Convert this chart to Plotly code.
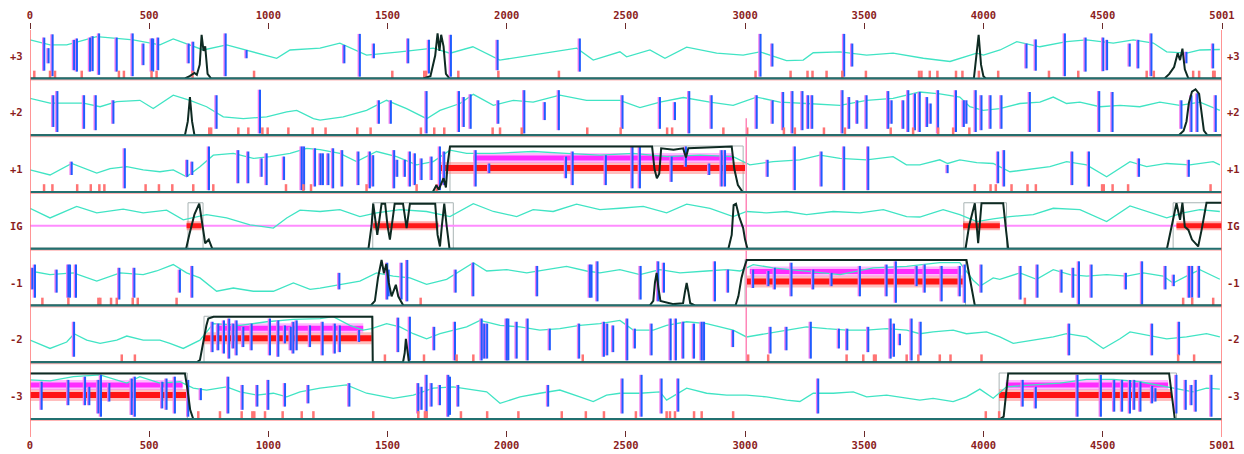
import plotly.graph_objects as go

# ---------------- data ----------------
ROWS = ["+3", "+2", "+1", "IG", "-1", "-2", "-3"]
X_MAX = 5001
TICKS = [0, 500, 1000, 1500, 2000, 2500, 3000, 3500, 4000, 4500, 5001]

# cyan curve per row: (position, level 0..1)
CYAN_P3 = [(0,.84),(84,.73),(154,.73),(280,.91),(433,.84),(545,.73),(601,.86),(727,.62),(825,.73),(937,.58),(1035,.44),(1091,.62),(1217,.66),
           (1300,.77),(1412,.51),(1552,.58),(1692,.66),(1762,.55),(1858,.69),(1971,.40),(2111,.51),(2294,.66),(2363,.40),(2475,.58),
           (2503,.47),(2601,.62),(2664,.44),(2755,.68),(2881,.55),(2992,.51),(3062,.58),(3174,.39),(3244,.40),(3286,.56),(3398,.58),
           (3454,.55),(3510,.51),(3621,.55),(3733,.44),(3748,.44),(3860,.37),(3902,.44),(3972,.55),(4000,.51),(4070,.62),(4140,.80),
           (4237,.69),(4349,.80),(4433,.84),(4545,.77),(4629,.84),(4713,.77),(4769,.58),(4853,.55),(4909,.62),(4992,.63)]
CYAN_P2 = [(0,.80),(84,.70),(224,.70),(294,.62),(364,.73),(461,.76),(517,.58),(601,.87),(671,.76),(741,.62),(811,.40),(895,.36),
           (993,.40),(1077,.51),(1119,.54),(1189,.36),(1217,.33),(1314,.40),(1412,.54),(1496,.76),(1580,.58),(1664,.36),(1720,.54),
           (1804,.69),(1860,.89),(1944,.65),(2028,.76),(2111,.72),(2223,.87),(2335,.76),(2475,.76),(2559,.60),(2643,.72),(2741,.82),
           (2853,.72),(2950,.65),(3048,.83),(3146,.72),(3258,.69),(3398,.65),(3510,.76),(3621,.80),(3733,.94),(3817,.90),(3901,.83),
           (3943,.62),(3999,.54),(4069,.58),(4153,.69),(4237,.72),(4293,.83),(4349,.69),(4405,.72),(4489,.62),(4573,.65),(4656,.62),
           (4740,.72),(4824,.65),(4908,.72),(4992,.54)]
CYAN_P1 = [(0,.48),(84,.37),(175,.62),(280,.41),(336,.51),(406,.55),(475,.48),(545,.44),(601,.48),(657,.33),(713,.55),(769,.80),
           (853,.84),(937,.73),(1007,.77),(1091,.84),(1161,.95),(1217,.92),(1300,.84),(1370,.66),(1454,.88),(1538,.77),(1622,.59),
           (1692,.66),(1762,.91),(1832,.84),(1944,.84),(2111,.88),(2251,.84),(2391,.80),(2531,.84),(2671,.77),(2811,.80),(2950,.77),
           (3020,.59),(3118,.66),(3230,.70),(3314,.80),(3398,.73),(3510,.70),(3621,.77),(3677,.59),(3733,.59),(3817,.70),(3850,.62),
           (3901,.70),(3972,.64),(4041,.62),(4111,.44),(4209,.51),(4279,.55),(4349,.66),(4433,.59),(4517,.33),(4615,.66),(4685,.55),
           (4769,.62),(4866,.59),(4964,.66),(4992,.59)]
CYAN_IG = [(0,.88),(84,.67),(196,.92),(280,.78),(391,.86),(475,.78),(573,.84),(643,.63),(741,.74),(825,.67),(923,.52),(1021,.45),
           (1077,.67),(1133,.84),(1217,.81),(1300,.85),(1384,.70),(1454,.78),(1552,.85),(1664,.81),(1762,.70),(1860,.98),(1944,.81),
           (2042,.70),(2111,.85),(2195,.81),(2293,.97),(2391,.85),(2475,.88),(2573,.92),(2671,.78),(2755,.97),(2853,.88),(2950,.70),
           (3007,.81),(3090,.78),(3174,.81),(3258,.74),(3370,.81),(3482,.78),(3580,.85),(3678,.70),(3733,.69),(3831,.85),(3901,.74),
           (3972,.59),(4041,.65),(4111,.70),(4209,.74),(4293,.88),(4405,.85),(4517,.59),(4615,.93),(4685,.81),(4769,.67),(4838,.78),
           (4908,.85),(4992,.81)]
CYAN_M1 = [(0,.75),(84,.67),(182,.71),(280,.53),(378,.71),(475,.67),(531,.75),(601,.89),(657,.71),(713,.60),(783,.31),(853,.38),
           (937,.31),(1021,.31),(1105,.49),(1175,.35),(1217,.38),(1300,.46),(1384,.53),(1454,.71),(1524,.64),(1594,.60),(1664,.46),
           (1748,.57),(1860,.93),(1916,.75),(2000,.78),(2084,.71),(2168,.78),(2251,.85),(2335,.75),(2391,.71),(2475,.78),(2559,.67),
           (2643,.78),(2727,.71),(2839,.75),(2923,.78),(2979,.75),(3034,.89),(3118,.82),(3258,.75),(3398,.67),(3538,.82),(3678,.85),
           (3817,.93),(3901,.93),(3957,.55),(3985,.42),(4041,.60),(4069,.57),(4153,.71),(4223,.57),(4293,.78),(4363,.67),(4433,.64),
           (4517,.67),(4601,.64),(4671,.71),(4754,.64),(4796,.49),(4852,.64),(4908,.78),(4992,.57)]
CYAN_M2 = [(0,.48),(84,.30),(154,.44),(185,.62),(238,.48),(294,.41),(364,.48),(406,.57),(475,.48),(545,.48),(587,.41),(643,.30),
           (713,.48),(769,.84),(881,.80),(993,.88),(1105,.93),(1217,.95),(1272,.99),(1342,.80),(1398,.70),(1433,.73),(1496,.84),
           (1552,.77),(1608,.62),(1664,.51),(1720,.62),(1776,.70),(1832,.77),(1888,.91),(1972,.80),(2056,.77),(2139,.70),(2223,.73),
           (2307,.80),(2391,.84),(2475,.91),(2531,.70),(2615,.70),(2671,.80),(2755,.88),(2839,.84),(2950,.70),(3006,.55),(3090,.62),
           (3174,.70),(3258,.77),(3342,.73),(3426,.70),(3510,.70),(3594,.73),(3678,.70),(3733,.62),(3789,.66),(3873,.70),(3929,.62),
           (4013,.66),(4069,.55),(4125,.41),(4209,.48),(4293,.55),(4349,.62),(4433,.55),(4503,.30),(4573,.51),(4615,.66),(4685,.59),
           (4769,.51),(4852,.55),(4936,.62),(4992,.55)]
CYAN_M3 = [(0,.85),(84,.83),(182,.92),(294,.96),(406,.78),(461,.92),(545,.78),(629,.81),(685,.67),(741,.63),(825,.70),(881,.59),
           (951,.52),(1021,.56),(1077,.48),(1133,.59),(1217,.67),(1328,.74),(1412,.56),(1524,.45),(1608,.52),(1692,.67),(1776,.70),
           (1860,.63),(1916,.59),(1972,.34),(2056,.48),(2139,.56),(2223,.63),(2307,.48),(2363,.38),(2419,.52),(2475,.56),(2559,.56),
           (2643,.59),(2671,.41),(2755,.67),(2839,.56),(2923,.52),(3006,.52),(3090,.48),(3174,.41),(3230,.38),(3286,.56),(3370,.56),
           (3454,.59),(3510,.48),(3594,.52),(3678,.45),(3733,.41),(3789,.45),(3873,.38),(3929,.48),(3985,.65),(4041,.45),(4097,.70),
           (4209,.74),(4321,.78),(4433,.86),(4545,.86),(4656,.81),(4768,.70),(4824,.63),(4880,.59),(4936,.67),(4992,.65)]

# blue bars per row: (position, top level, bottom level)
BLUE_P3 = [(60,.89,.17),(78,.66,.33),(95,.96,.05),(185,.84,.18),(197,.87,.15),(252,.89,.15),(263,.92,.16),(290,.98,.08),(364,.89,.15),
           (431,.98,.05),(476,.76,.29),(511,.87,.15),(517,.87,.15),(538,.89,.18),(666,.76,.33),(685,.80,.11),(821,.98,.05),(909,.62,.44),
           (1319,.73,.33),(1384,.97,.04),(1443,.76,.44),(1587,.87,.33),(1674,.84,.11),(1766,.95,.04),(1962,.84,.18),(2307,.87,.15),
           (3065,.97,.04),(3115,.76,.26),(3416,.97,.04),(3450,.76,.26),(4181,.76,.22),(4220,.85,.17),(4342,.98,.05),(4429,.89,.15),
           (4503,.89,.16),(4519,.84,.18),(4614,.76,.26),(4650,.84,.22),(4705,.98,.05),(4852,.58,.33),(4964,.76,.22)]
BLUE_P2 = [(98,.87,.18),(115,.96,.07),(227,.87,.14),(276,.87,.11),(350,.76,.25),(783,.87,.14),(965,.99,.04),(1464,.76,.25),(1514,.76,.25),
           (1664,.96,.04),(1800,.96,.07),(1820,.83,.18),(1849,.89,.14),(1965,.76,.25),(2074,.98,.04),(2160,.72,.33),(2219,.98,.11),
           (2486,.87,.14),(2643,.83,.14),(2706,.72,.33),(2766,.96,.04),(2860,.87,.14),(3049,.87,.14),(3116,.76,.25),(3160,.94,.11),
           (3199,.96,.04),(3241,.96,.11),(3265,.87,.14),(3282,.87,.14),(3409,.98,.04),(3437,.83,.14),(3471,.76,.25),(3510,.87,.14),
           (3601,.96,.14),(3615,.76,.25),(3664,.76,.14),(3685,.98,.07),(3713,.91,.11),(3733,.94,.07),(3764,.83,.18),(3779,.69,.25),
           (3810,.98,.04),(3885,.98,.07),(3918,.76,.18),(3929,.76,.25),(3968,.98,.07),(3992,.87,.11),(4030,.87,.14),(4076,.87,.14),
           (4195,.94,.07),(4486,.96,.07),(4542,.94,.07),(4831,.76,.14),(4873,.87,.07),(4898,.91,.07),(4975,.87,.07)]
BLUE_P1 = [(175,.66,.37),(398,.95,.08),(660,.70,.33),(681,.66,.37),(751,.99,.04),(874,.91,.19),(916,.88,.19),(972,.73,.33),(993,.84,.15),
           (1066,.77,.26),(1140,.99,.04),(1150,.99,.04),(1196,.95,.12),(1219,.84,.15),(1229,.84,.15),(1252,.84,.15),(1272,.95,.08),
           (1310,.91,.12),(1378,.88,.15),(1426,.88,.08),(1440,.80,.12),(1528,.91,.08),(1541,.70,.33),(1573,.70,.33),(1594,.88,.12),
           (1615,.84,.15),(1643,.73,.26),(1685,.77,.26),(1720,.99,.04),(1738,.88,.15),(1870,.91,.12),(1927,.62,.41),(2249,.77,.30),
           (2277,.88,.15),(2416,.80,.15),(2528,.99,.08),(2559,.99,.08),(2692,.77,.22),(2752,.99,.55),(2850,.62,.37),(2902,.91,.12),
           (2916,.91,.12),(3095,.70,.33),(3209,.99,.04),(3321,.88,.12),(3416,.99,.04),(3517,.99,.04),(3850,.59,.41),(4062,.88,.19),
           (4087,.91,.12),(4373,.88,.15),(4443,.88,.12),(4653,.73,.33),(4862,.70,.33)]
BLUE_M1 = [(10,.82,.35),(21,.89,.17),(112,.78,.28),(161,.89,.17),(168,.89,.17),(193,.89,.17),(375,.82,.13),(438,.82,.17),(629,.78,.28),
           (681,.86,.17),(1298,.71,.35),(1499,.93,.13),(1505,.78,.20),(1559,.93,.13),(1583,.99,.09),(1786,.78,.28),(1860,.93,.20),
           (2128,.86,.20),(2349,.89,.17),(2356,.89,.17),(2381,.96,.09),(2562,.86,.13),(2636,.96,.09),(2660,.93,.28),(2874,.96,.09),
           (2929,.78,.28),(3034,.78,.38),(3098,.75,.42),(3125,.82,.35),(3195,.93,.20),(3286,.78,.35),(3363,.71,.42),(3482,.86,.20),
           (3594,.89,.20),(3633,.96,.06),(3720,.86,.42),(3754,.89,.28),(3825,.86,.09),(3901,.86,.20),(3922,.89,.06),(3992,.89,.28),
           (4156,.86,.13),(4227,.89,.17),(4328,.78,.28),(4377,.82,.17),(4401,.96,.02),(4454,.89,.17),(4598,.71,.35),(4666,.96,.02),
           (4764,.86,.35),(4799,.67,.42),(4863,.86,.17),(4876,.86,.17),(4905,.86,.17)]
BLUE_M2 = [(185,.88,.12),(766,.88,.22),(790,.84,.26),(814,.91,.19),(836,.95,.08),(853,.84,.30),(867,.91,.15),(895,.77,.33),(930,.84,.26),
           (1007,.95,.15),(1042,.91,.12),(1070,.80,.41),(1094,.77,.26),(1105,.88,.19),(1119,.91,.26),(1175,.80,.33),(1228,.88,.15),
           (1279,.84,.19),(1300,.80,.22),(1381,.70,.44),(1545,.97,.22),(1594,.99,.04),(1696,.77,.26),(1783,.88,.04),(1895,.95,.04),
           (1906,.84,.08),(1918,.84,.08),(2000,.95,.04),(2007,.95,.04),(2042,.88,.08),(2088,.95,.04),(2181,.73,.26),(2304,.84,.08),
           (2408,.88,.12),(2422,.84,.15),(2447,.80,.22),(2506,.95,.04),(2538,.73,.30),(2608,.84,.15),(2688,.95,.04),(2710,.95,.04),
           (2741,.88,.08),(2786,.84,.08),(2818,.88,.04),(2828,.88,.04),(2950,.70,.33),(3107,.77,.19),(3174,.77,.26),(3276,.88,.08),
           (3394,.73,.30),(3429,.73,.26),(3517,.77,.22),(3611,.95,.08),(3625,.84,.12),(3650,.62,.37),(3699,.95,.04),(3737,.88,.15),
           (4360,.84,.15),(4708,.84,.15),(4821,.88,.15)]
BLUE_M3 = [(49,.81,.20),(161,.85,.30),(231,.92,.30),(249,.70,.30),(287,.85,.12),(298,.96,.05),(333,.78,.38),(427,.88,.09),(440,.92,.05),
           (555,.81,.23),(573,.88,.20),(608,.92,.12),(664,.85,.05),(717,.67,.41),(832,.92,.12),(892,.74,.20),(954,.74,.27),(1000,.85,.20),
           (1070,.78,.27),(1168,.74,.34),(1340,.78,.27),(1629,.78,.12),(1643,.70,.20),(1664,.96,.05),(1685,.78,.27),(1720,.74,.30),
           (1755,.96,.05),(1762,.92,.09),(1797,.74,.27),(2174,.74,.27),(2486,.88,.12),(2566,.96,.05),(2650,.88,.12),(2720,.88,.16),
           (3307,.88,.12),(4165,.85,.27),(4220,.70,.23),(4395,.96,.05),(4493,.96,.05),(4549,.85,.16),(4582,.85,.16),(4615,.85,.12),
           (4633,.85,.20),(4659,.81,.16),(4708,.72,.34),(4722,.67,.38),(4810,.96,.12),(4849,.85,.20),(4873,.74,.30),(4891,.85,.16),
           (4957,.96,.05)]

# short red stop ticks per row (positions)
STOPS_P3 = [18,84,105,217,373,394,510,531,682,940,1520,1654,1662,1797,1965,2219,3044,3191,3262,3283,3342,3408,3507,3730,3740,3775,
            3807,3885,3912,3981,4062,4275,4398,4685,4715,4880,4905,4964,4970]
STOPS_P2 = [752,760,874,916,975,997,1084,1186,1240,1373,1429,1640,1696,1738,1941,1972,2063,2338,2478,2673,2694,2909,3009,3163,3209,
            3331,3419,3611,3705,3810,3873,3941]
STOPS_P1 = [59,94,198,255,291,312,485,541,597,685,769,1074,1147,1179,1412,1622,1706,3964,4030,4052,4118,4185,4220,4498,4505,4542,
            4607,4953]
STOPS_M1 = [52,161,287,295,340,364,431,452,615,1639,4174,4838,4876,4964]
STOPS_M2 = [385,440,1489,1653,1790,1860,2319,3013,3097,3426,3496,3541,3548,3678,3727,3817,3862,3992,4817,4884]
STOPS_M3 = [706,797,888,933,941,986,1060,1140,1189,1440,1629,1657,1664,1808,1918,2049,2231,2332,2408,2542,2671,2685,2706,2786,
            2818,2950,4010,4066]

# black coding-probability curves per row: (position, level)
PROB_P3 = [(0,0),(650,0),(670,.05),(690,.12),(700,.08),(712,.3),(720,.95),(728,.6),(735,.7),(745,.1),(760,0),(1650,0),(1680,.05),
           (1700,.5),(1710,.98),(1718,.6),(1725,.95),(1735,.7),(1745,.1),(1760,0),(3960,0),(3972,.5),(3980,.95),(3990,.3),(4000,.05),
           (4010,0),(4760,0),(4780,.1),(4800,.25),(4815,.55),(4825,.4),(4835,.65),(4845,.2),(4860,0),(5001,0)]
PROB_P2 = [(0,0),(650,0),(662,.3),(671,.83),(680,.3),(690,0),(4820,0),(4840,.1),(4852,.3),(4862,.7),(4875,.95),(4890,1.0),(4905,.9),
           (4915,.5),(4925,.1),(4940,0),(5001,0)]
PROB_P1 = [(0,0),(1690,0),(1705,.15),(1715,.05),(1735,.3),(1745,.1),(1752,.6),(1762,.99),(2610,.99),(2620,.5),(2630,.3),(2640,.4),
           (2648,.95),(2700,.92),(2740,.95),(2752,.75),(2762,.95),(2944,.99),(2955,.5),(2970,.15),(2990,0),(5001,0)]
PROB_IG = [(0,0),(655,0),(668,.3),(690,.75),(710,.98),(720,.6),(735,.12),(750,.2),(765,0),(1420,0),(1433,.5),(1440,.98),(1450,.6),
           (1457,.3),(1465,.6),(1475,.98),(1490,.98),(1500,.5),(1510,.2),(1520,.6),(1530,.98),(1565,.98),(1580,.45),(1594,.98),
           (1700,.98),(1710,.3),(1720,.05),(1728,.5),(1738,.98),(1748,.5),(1760,0),(2930,0),(2944,.3),(2952,.95),(2962,.98),
           (2975,.7),(2992,.45),(3000,.2),(3010,0),(3925,0),(3940,.5),(3964,.99),(3978,.12),(3992,.99),(4083,.99),(4095,.4),
           (4104,0),(4770,0),(4790,.5),(4810,.99),(4825,.63),(4835,1.0),(4845,.48),(4860,.41),(4875,.2),(4901,.05),(4915,.4),
           (4925,.7),(4936,1.0),(5001,1.0)]
PROB_M1 = [(0,0),(1430,0),(1447,.1),(1460,.6),(1475,.99),(1485,.7),(1495,.9),(1505,.5),(1517,.2),(1525,.3),(1535,.45),(1545,.2),
           (1566,0),(2600,0),(2615,.1),(2622,.5),(2629,.71),(2636,.4),(2645,.1),(2700,.03),(2740,.05),(2748,.3),(2755,.49),
           (2762,.3),(2770,.05),(2790,0),(2960,0),(2972,.2),(2985,.6),(2995,.8),(3007,.99),(3929,.99),(3945,.5),(3964,0),(5001,0)]
PROB_M2 = [(0,0),(700,0),(713,.05),(725,.4),(740,.8),(748,.95),(770,.99),(1436,.99),(1438,0),(1565,0),(1572,.2),(1577,.51),
           (1583,.2),(1590,0),(5001,0)]
PROB_M3 = [(0,.99),(650,.99),(662,.6),(672,.2),(685,0),(4070,0),(4085,.05),(4097,.6),(4104,.99),(4779,.99),(4790,.5),(4803,0),
           (5001,0)]

# predicted genes: (frame, red start, red end, magenta start, magenta end)
GENES = [("+1",1720,3000,1860,2945),("-1",3007,3922,3020,3905),("-2",730,1433,780,1398),
         ("-3",0,657,0,640),("-3",4066,4789,4094,4775)]
IG_REGIONS = [(657,720),(1440,1713),(3915,4069),(4810,5001)]
# thin grey boxes around predicted regions: (frame, start, end)
BOXES = [("+1",1762,2992),("IG",663,726),("IG",1438,1776),("IG",3918,4097),("IG",4796,5001),
         ("-1",3000,3925),("-2",730,1438),("-3",0,660),("-3",4066,4810)]
# pink frame-shift marker: (position, from frame, level, to frame, level)
MARKER = (3005, "+2", 0.37, "-2", 0.0)

CYAN = dict(zip(ROWS, [CYAN_P3, CYAN_P2, CYAN_P1, CYAN_IG, CYAN_M1, CYAN_M2, CYAN_M3]))
BLUE = {"+3": BLUE_P3, "+2": BLUE_P2, "+1": BLUE_P1, "-1": BLUE_M1, "-2": BLUE_M2, "-3": BLUE_M3}
STOPS = {"+3": STOPS_P3, "+2": STOPS_P2, "+1": STOPS_P1, "-1": STOPS_M1, "-2": STOPS_M2, "-3": STOPS_M3}
PROB = dict(zip(ROWS, [PROB_P3, PROB_P2, PROB_P1, PROB_IG, PROB_M1, PROB_M2, PROB_M3]))

# ---------------- geometry ----------------
W, H = 1244, 454
ML, MR, MT, MB = 30, 22, 30, 17
BASE0, PITCH, ROWH = 78.5, 56.75, 46.0
XU = X_MAX / (W - ML - MR)      # data units per pixel
STOP_H = 0.17
GENE_RED_V, GENE_MAG_V = 0.52, 0.74


def yv(row, v):
    k = ROWS.index(row)
    return -(BASE0 + k * PITCH - v * ROWH)


fig = go.Figure()


def add(xs, ys, color, width, shape="linear"):
    fig.add_trace(go.Scatter(x=xs, y=ys, mode="lines", line=dict(color=color, width=width, shape=shape),
                             hoverinfo="skip", showlegend=False))


def segments(items):
    xs, ys = [], []
    for (x0, y0), (x1, y1) in items:
        xs += [x0, x1, None]
        ys += [y0, y1, None]
    return xs, ys


# grey boxes
bx, by = [], []
for row, a, b in BOXES:
    bx += [a, a, b, b, a, None]
    by += [yv(row, 0), yv(row, 1), yv(row, 1), yv(row, 0), yv(row, 0), None]
add(bx, by, "#a9b4b4", 1)

# IG pink line
add([0, X_MAX], [yv("IG", .5)] * 2, "#ff8cff", 2)

# gene bars
for glow, core, wg, wc, key in [("rgba(255,110,110,0.45)", "#ff1414", 12, 6, "red"),
                                ("rgba(255,130,255,0.55)", "#ff2cff", 10, 5, "mag")]:
    items = []
    for row, r0, r1, m0, m1 in GENES:
        if key == "red":
            items.append(((r0, yv(row, GENE_RED_V)), (r1, yv(row, GENE_RED_V))))
        else:
            items.append(((m0, yv(row, GENE_MAG_V)), (m1, yv(row, GENE_MAG_V))))
    xs, ys = segments(items)
    add(xs, ys, glow, wg)
    add(xs, ys, core, wc)
xs, ys = segments([((a, yv("IG", .5)), (b, yv("IG", .5))) for a, b in IG_REGIONS])
add(xs, ys, "rgba(255,90,90,0.5)", 9)
add(xs, ys, "#ff1a1a", 5)

# cyan curves
for row in ROWS:
    pts = CYAN[row]
    add([p[0] for p in pts], [yv(row, p[1]) for p in pts], "#40e4c4", 1.3)

# blue bars (with pink fringe)
pink_items, blue_items = [], []
for row, bars in BLUE.items():
    for x, t, b in bars:
        pink_items.append(((x - 1.3 * XU, yv(row, t)), (x - 1.3 * XU, yv(row, b))))
        blue_items.append(((x, yv(row, t)), (x, yv(row, b))))
xs, ys = segments(pink_items)
add(xs, ys, "#f07cf0", 2)
xs, ys = segments(blue_items)
add(xs, ys, "#1f5cff", 2)

# red stop ticks
items = []
for row, pos in STOPS.items():
    for x in pos:
        items.append(((x, yv(row, 0)), (x, yv(row, STOP_H))))
xs, ys = segments(items)
add(xs, ys, "#ff7474", 2.5)

# pink marker line
mx, r0, v0, r1, v1 = MARKER
add([mx, mx], [yv(r0, v0), yv(r1, v1)], "#ff86b8", 1.5)

# black probability curves
for row in ROWS:
    pts = PROB[row]
    add([p[0] for p in pts], [yv(row, p[1]) for p in pts], "#0e2a22", 2)

# baselines
xs, ys = segments([((0, yv(r, 0) - 1.2), (X_MAX, yv(r, 0) - 1.2)) for r in ROWS])
add(xs, ys, "#ffb4b4", 1.5)
xs, ys = segments([((0, yv(r, 0)), (X_MAX, yv(r, 0))) for r in ROWS])
add(xs, ys, "#217070", 2)

# frame edge lines
ytop, ybot = -MT, -(H - MB)
xs, ys = segments([((0, ytop), (0, ybot)), ((X_MAX, ytop), (X_MAX, ybot))])
add(xs, ys, "#ff7a7a", 1.6)

# dummy trace for the top axis
fig.add_trace(go.Scatter(x=[0, X_MAX], y=[ytop, ytop], xaxis="x2", mode="markers",
                         marker=dict(opacity=0), hoverinfo="skip", showlegend=False))

tickfont = dict(family="DejaVu Sans Mono", size=10.5, color="#8b1d1d", weight="bold")
axis_common = dict(tickmode="array", tickvals=TICKS, ticktext=[str(t) for t in TICKS],
                   ticklen=6, tickwidth=1, tickcolor="#6b2a2a", tickfont=tickfont,
                   showgrid=False, zeroline=False, showline=False, fixedrange=True)

annotations = []
for row in ROWS:
    for xp in [(16 - ML) / (W - ML - MR), (1233 - ML) / (W - ML - MR)]:
        annotations.append(dict(x=xp, xref="paper", y=yv(row, .5), yref="y", text=row, showarrow=False,
                                xanchor="center", yanchor="middle",
                                font=dict(family="DejaVu Sans Mono", size=10.5, color="#8b1d1d", weight="bold")))

fig.update_layout(
    width=W, height=H,
    margin=dict(l=ML, r=MR, t=MT, b=MB, autoexpand=False),
    plot_bgcolor="white", paper_bgcolor="white",
    showlegend=False,
    xaxis=dict(range=[0, X_MAX], ticks="inside", **axis_common),
    xaxis2=dict(overlaying="x", side="top", matches="x", ticks="outside", **axis_common),
    yaxis=dict(range=[ybot, ytop], visible=False, fixedrange=True),
    annotations=annotations,
)

# the page itself gets no margin so that the figure fills the window exactly
fig.write_html("out.html",
               config={"displayModeBar": False, "staticPlot": True},
               post_script="document.body.style.margin='0px';document.body.style.overflow='hidden';")
